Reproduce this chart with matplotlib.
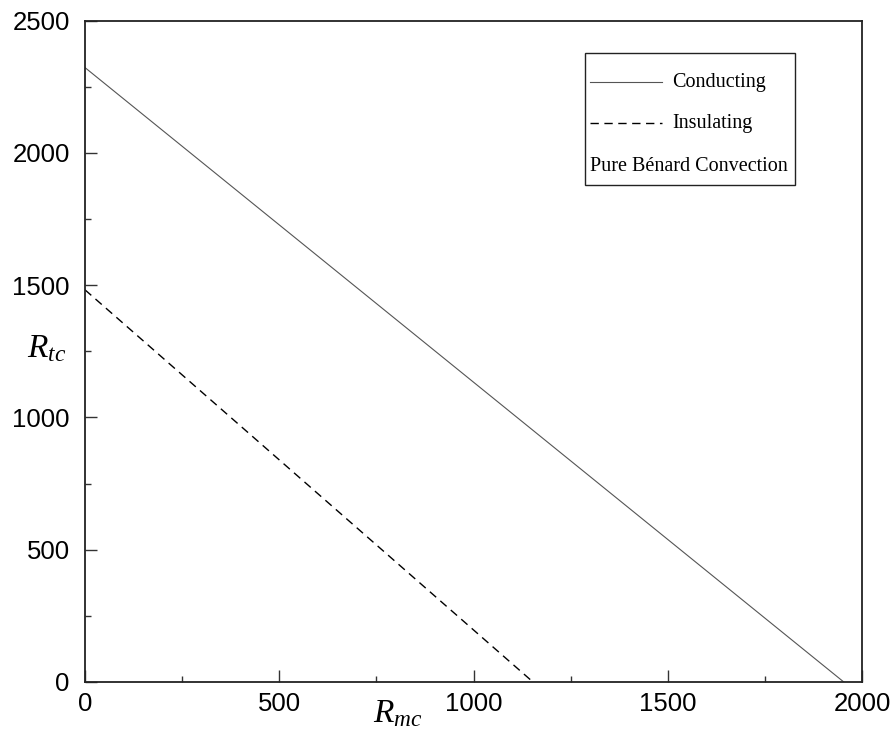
import matplotlib
matplotlib.use("Agg")
import matplotlib.pyplot as plt
from matplotlib.ticker import MultipleLocator
from matplotlib.patches import Rectangle

plt.rcParams['font.family'] = ['Liberation Sans', 'DejaVu Sans']
plt.rcParams['mathtext.fontset'] = 'custom'
plt.rcParams['mathtext.it'] = 'Liberation Serif:italic'
plt.rcParams['mathtext.rm'] = 'Liberation Serif'

# data
conducting_rmc = [0, 1953]
conducting_rtc = [2322, 0]
insulating_rmc = [0, 1153]
insulating_rtc = [1482, 0]
legend_labels = ["Conducting", "Insulating", "Pure Bénard Convection"]

fig = plt.figure(figsize=(8.93, 7.3), dpi=100)
ax = fig.add_axes([0.0952, 0.0658, 0.8701, 0.9061])

ax.plot(conducting_rmc, conducting_rtc, color='#555555', lw=0.8)
ax.plot(insulating_rmc, insulating_rtc, color='black', lw=1.0, dashes=(6, 4))

ax.set_xlim(0, 2000)
ax.set_ylim(0, 2500)
ax.xaxis.set_major_locator(MultipleLocator(500))
ax.xaxis.set_minor_locator(MultipleLocator(250))
ax.yaxis.set_major_locator(MultipleLocator(500))
ax.yaxis.set_minor_locator(MultipleLocator(250))
ax.tick_params(which='both', direction='in', top=False, right=False,
               labelsize=18.5, width=1.0, color='#333333')
ax.tick_params(which='major', length=8.6)
ax.tick_params(which='minor', length=4.5)
ax.tick_params(axis='x', pad=7.5)
ax.tick_params(axis='y', pad=11)
for s in ax.spines.values():
    s.set_linewidth(1.3)
    s.set_color('#222222')

fig.text(0.052, 0.522, r'$R_{tc}$', fontsize=24, ha='center', va='center')
fig.text(0.445, 0.022, r'$R_{mc}$', fontsize=24, ha='center', va='center')

# legend box drawn by hand (third entry has no handle)
tr = ax.transAxes
ax.add_patch(Rectangle((0.6435, 0.751), 0.2703, 0.2, transform=tr,
                       fill=False, ec='#222222', lw=1.0))
ax.plot([0.650, 0.7426], [0.907, 0.907], transform=tr, color='#555555', lw=0.8)
ax.plot([0.650, 0.7426], [0.845, 0.845], transform=tr, color='black', lw=1.0,
        dashes=(6, 4))
lfont = dict(family='Liberation Serif', fontsize=14.5, va='center', transform=tr)
ax.text(0.7555, 0.907, legend_labels[0], **lfont)
ax.text(0.7555, 0.845, legend_labels[1], **lfont)
ax.text(0.6505, 0.780, legend_labels[2], **lfont)

fig.savefig("out.png", dpi=100)
